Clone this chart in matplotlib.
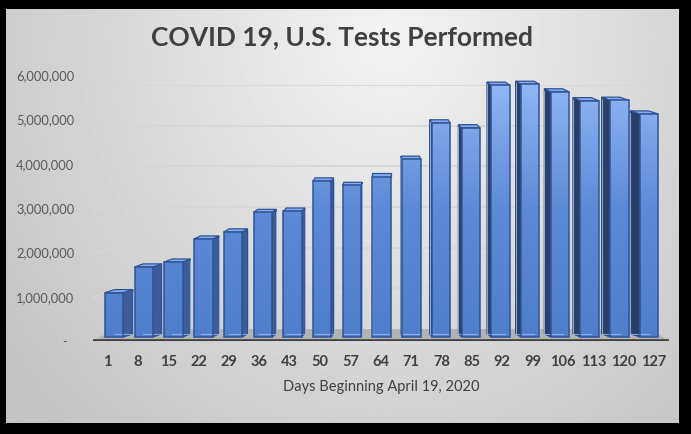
#!/usr/bin/env python3
"""
COVID 19, U.S. tests performed per week - pseudo 3D column chart
"""

import numpy as np
import matplotlib
matplotlib.use('Agg')
import matplotlib.pyplot as plt
from matplotlib.lines import Line2D
from matplotlib.patches import Polygon
from matplotlib.path import Path
from matplotlib.transforms import IdentityTransform
from matplotlib.colors import LinearSegmentedColormap

# Data
days = [1, 8, 15, 22, 29, 36, 43, 50, 57, 64, 71, 78, 85, 92, 99, 106, 113, 120, 127]
tests = [1.09e6, 1.67e6, 1.78e6, 2.30e6, 2.46e6, 2.90e6, 2.93e6, 3.61e6, 3.51e6, 3.71e6,
         4.10e6, 4.92e6, 4.81e6, 5.77e6, 5.79e6, 5.62e6, 5.42e6, 5.43e6, 5.12e6]
y_ticks = [0, 1e6, 2e6, 3e6, 4e6, 5e6, 6e6]

TITLE = 'COVID 19, U.S. Tests Performed'
XLABEL = 'Days Beginning April 19, 2020'

W, H = 691, 434
plt.rcParams['font.family'] = ['Lato', 'DejaVu Sans']

fig = plt.figure(figsize=(W / 100, H / 100), dpi=100, facecolor='black')


def px_axes(left, top, right, bottom, zorder):
    """Axes placed with pixel edges (top-left origin)"""
    ax = fig.add_axes([left / W, 1 - bottom / H, (right - left) / W, (bottom - top) / H],
                      zorder=zorder)
    ax.patch.set_alpha(0)
    for s in ax.spines.values():
        s.set_visible(False)
    return ax


# --- background panel with soft radial gradient
bg = px_axes(6, 9, 679, 423, 0)
gx, gy = np.meshgrid(np.linspace(0, 1, 400), np.linspace(0, 1, 300))
d = np.sqrt(((gx - 0.57) / 0.6) ** 2 + ((gy - 0.05) / 1.1) ** 2)
shade = np.clip(243 - 40 * d, 196, 243) / 255
bg.imshow(shade, cmap='gray', vmin=0, vmax=1, aspect='auto', extent=(0, 1, 1, 0))
bg.set_xlim(0, 1)
bg.set_ylim(1, 0)
bg.axis('off')

# --- back wall (gridlines)
wall = px_axes(115, 85, 650, 329, 1)
wall.set_xlim(0, 1)
wall.set_ylim(0, 6e6)
wall.set_xticks([])
wall.set_yticks([])
for v in y_ticks[1:]:
    wall.axhline(v, color='#d6d6d6', lw=1.2)

# --- front frame: tick labels and floor edge
n = len(days)
front = px_axes(92.5, 75, 669.2, 341, 2)
front.set_xlim(-0.5, n - 0.5)
front.set_ylim(0, 6e6)
front.set_yticks(y_ticks)
front.set_yticklabels(['-  ' if v == 0 else f'{int(v):,}' for v in y_ticks],
                      fontsize=9.3, color='#595959')
front.set_xticks(np.arange(n))
front.set_xticklabels([str(d_) for d_ in days], fontsize=10.5, fontweight='bold', color='#404040')
front.tick_params(axis='y', length=0, pad=13)
front.tick_params(axis='x', length=0, pad=10)
front.axhline(0, color='#3f3f3f', lw=2.6, zorder=5)

# left side wall gridline pieces and floor, joined through both frames
pix = IdentityTransform()
for v in y_ticks[1:]:
    p0 = front.transData.transform((-0.5, v - 0.03e6))
    p1 = wall.transData.transform((0, v))
    fig.add_artist(Line2D([p0[0], p1[0]], [p0[1], p1[1]], transform=pix,
                          color='#d6d6d6', lw=1.2, zorder=1.5))

floor_pts = [front.transData.transform((-0.5, 0)), front.transData.transform((n - 0.5, 0)),
             wall.transData.transform((1, 0)), wall.transData.transform((0, 0))]
fig.add_artist(Polygon(floor_pts, closed=True, transform=pix, facecolor='#b3b3b3',
                       edgecolor='none', zorder=1.6))

# --- bars
bars = px_axes(99.3, 75, 663.9, 341, 3)
bars.set_xlim(-0.5, n - 0.5)
bars.set_ylim(0, 6e6)
bars.axis('off')

x = np.arange(n)
w = 0.62
base = 0.09e6          # front face stands slightly behind the floor edge
dy = 0.07e6            # top/back face lift
dxs = -0.036 * (x - (n - 1) / 2)   # perspective shift of the back face

for xi, v, dx in zip(x, tests, dxs):
    # side face
    if abs(dx) > 1e-9:
        xe = xi + w / 2 if dx > 0 else xi - w / 2
        side_col = '#3d5d99' if dx > 0 else '#2b3f66'
        bars.fill([xe, xe, xe + dx, xe + dx], [base, v, v + dy, base + dy],
                  facecolor=side_col, edgecolor='#2a4a85', lw=0.8, zorder=2)
    # top face
    bars.fill([xi - w / 2, xi + w / 2, xi + w / 2 + dx, xi - w / 2 + dx],
              [v, v, v + dy, v + dy], facecolor='#86abeb', edgecolor='#2f5597',
              lw=0.9, zorder=3)

front_faces = bars.bar(x, np.array(tests) - base, bottom=base, width=w,
                       color='none', edgecolor='#2f5597', lw=1.1, zorder=6)

# front face gradient, clipped to the bar shapes
blue = LinearSegmentedColormap.from_list('blue', ['#4f7ecb', '#5d8ad6', '#93b9f6'])
grad = np.linspace(0, 1, 256).reshape(-1, 1)
im = bars.imshow(grad, cmap=blue, aspect='auto', origin='lower',
                 extent=(-0.5, n - 0.5, 0, 6e6), zorder=4)
paths = [p.get_path().transformed(p.get_patch_transform()) for p in front_faces]
im.set_clip_path(Path.make_compound_path(*paths), transform=bars.transData)
bars.set_xlim(-0.5, n - 0.5)
bars.set_ylim(0, 6e6)

# back edges seen through the glassy front
for xi, v, dx in zip(x, tests, dxs):
    bx = xi + dx + (w / 2 if dx > 0 else -w / 2)
    bars.plot([bx, bx], [base + dy, v + dy * 0.3], color='#9dbbf0', lw=0.8, alpha=0.8, zorder=5)
    bars.plot([xi - w / 2 + dx, xi + w / 2 + dx], [base + dy, base + dy],
              color='#9dbbf0', lw=0.8, alpha=0.8, zorder=5)

# --- texts
fig.text(342 / W, 1 - 37 / H, TITLE, ha='center', va='center', fontsize=19,
         fontweight='bold', color='#404040')
fig.text(381.5 / W, 1 - 387 / H, XLABEL, ha='center', va='center', fontsize=10.5,
         color='#404040')

fig.savefig('out.png', dpi=100, facecolor='black')
